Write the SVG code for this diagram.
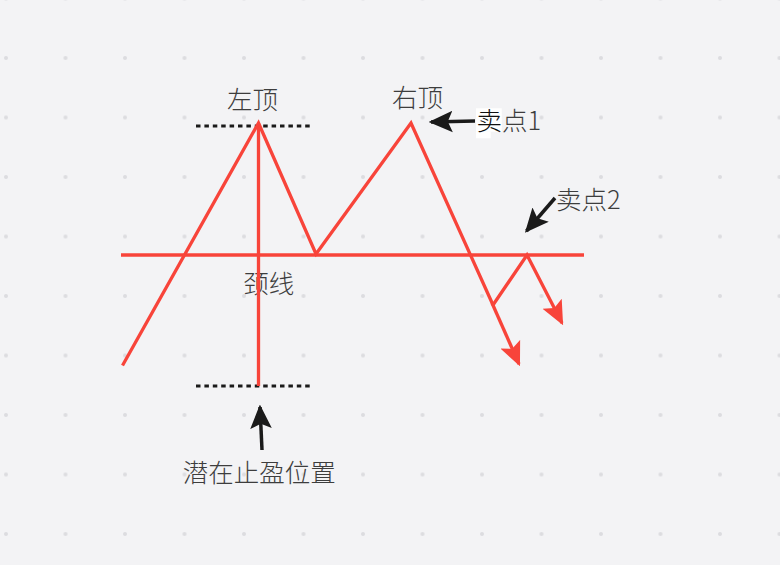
<svg xmlns="http://www.w3.org/2000/svg" width="780" height="565" viewBox="0 0 780 565">
<defs>
<pattern id="dots" x="6" y="-1.5" width="59.5" height="59.5" patternUnits="userSpaceOnUse">
<circle cx="0" cy="0" r="2" fill="#dcdcdf"/><circle cx="59.5" cy="0" r="2" fill="#dcdcdf"/><circle cx="0" cy="59.5" r="2" fill="#dcdcdf"/><circle cx="59.5" cy="59.5" r="2" fill="#dcdcdf"/>
</pattern>
<marker id="ab" markerUnits="userSpaceOnUse" markerWidth="24" markerHeight="24" viewBox="0 0 20 20" refX="18" refY="10" orient="auto">
<path d="M0,1 L20,10 L0,19 L4,10 z" fill="#1a1a1a"/>
</marker>
<marker id="ar" markerUnits="userSpaceOnUse" markerWidth="24" markerHeight="24" viewBox="0 0 20 20" refX="18" refY="10" orient="auto">
<path d="M0,1 L20,10 L0,19 L4,10 z" fill="#f8443a"/>
</marker>
<style>
.t{font-family:"Noto Sans CJK SC","Noto Sans",sans-serif;font-size:25.5px;font-weight:300;fill:#3d3d3d}
.r{stroke:#f8443a;stroke-width:3.3;fill:none}
.d{stroke:#1a1a1a;stroke-width:3;stroke-dasharray:4.5 3.9;fill:none}
.k{stroke:#1a1a1a;stroke-width:3.5;fill:none}
</style>
</defs>
<rect width="780" height="565" fill="#f3f3f5"/>
<rect width="780" height="565" fill="url(#dots)"/>
<g id="label-left-top"><text class="t" x="252.5" y="108.5" text-anchor="middle">左顶</text></g>
<g id="label-right-top"><text class="t" x="417.5" y="106.5" text-anchor="middle">右顶</text></g>
<g id="label-neckline"><text class="t" x="268.7" y="293" text-anchor="middle">颈线</text></g>
<g id="label-target"><text class="t" x="259.2" y="482" text-anchor="middle">潜在止盈位置</text></g>
<g id="label-sell1">
<rect x="476" y="108.3" width="25.7" height="23.4" fill="#ffffff"/>
<rect x="476" y="131.7" width="14.7" height="6.6" fill="#ffffff"/>
<text class="t" x="476.5" y="130"><tspan fill="#111">卖</tspan>点1</text>
</g>
<g id="label-sell2"><text class="t" x="556" y="209">卖点2</text></g>
<g id="connectors">
<line class="d" x1="196" y1="126" x2="313" y2="126"/>
<line class="d" x1="196" y1="386" x2="313" y2="386"/>
<line class="r" x1="121" y1="255" x2="584" y2="255"/>
<line class="r" x1="258.5" y1="123" x2="258.5" y2="386"/>
<polyline class="r" points="122.5,365.5 258.5,123 316,254 411,123 493,305" stroke-linejoin="miter"/>
<line class="r" x1="492" y1="303" x2="519" y2="364" marker-end="url(#ar)"/>
<polyline class="r" points="493,305 527,255 562,323" marker-end="url(#ar)"/>
<line class="k" x1="475" y1="121" x2="431" y2="122" marker-end="url(#ab)"/>
<line class="k" x1="555" y1="198" x2="526.5" y2="231" marker-end="url(#ab)"/>
<line class="k" x1="262" y1="450" x2="260" y2="407" marker-end="url(#ab)"/>
</g>
</svg>
